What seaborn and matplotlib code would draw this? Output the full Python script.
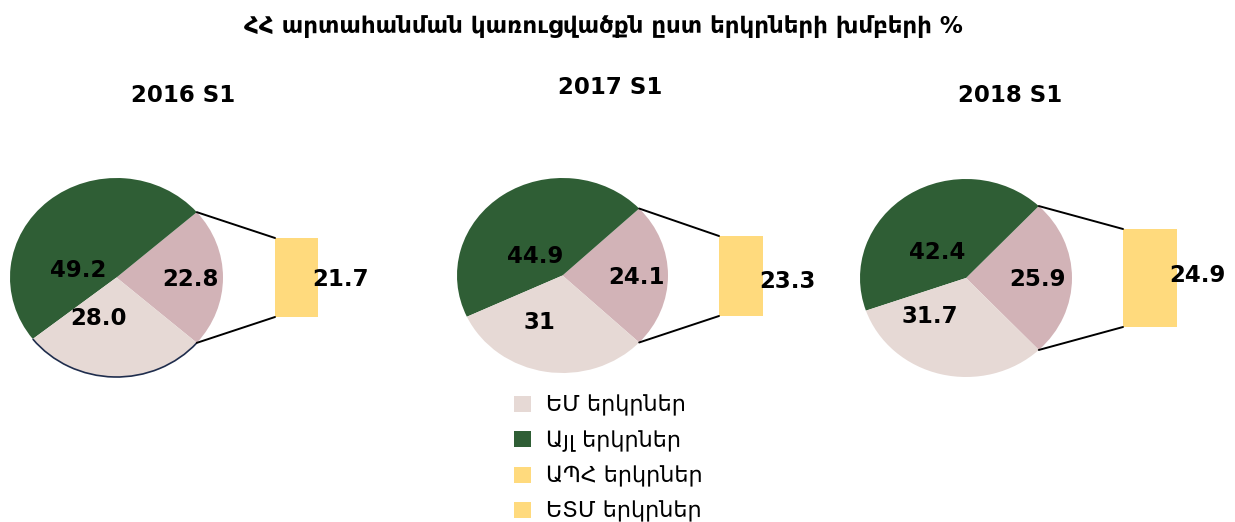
import math
import matplotlib
matplotlib.use("Agg")
import matplotlib.pyplot as plt
from matplotlib.patches import Patch, Arc, ConnectionPatch
import seaborn as sns

# ---------------- data ----------------
periods = ["2016 S1", "2017 S1", "2018 S1"]
other_shares = [49.2, 44.9, 42.4]      # Այլ երկրներ
cis_shares = [22.8, 24.1, 25.9]        # ԱՊՀ (exploded slice)
eu_shares = [28.0, 31, 31.7]           # ԵՄ երկրներ
eaeu_shares = [21.7, 23.3, 24.9]       # ԵՏՄ (bar)
legend_labels = ["ԵՄ երկրներ", "Այլ երկրներ", "ԱՊՀ երկրներ", "ԵՏՄ երկրներ"]
title = "ՀՀ արտահանման կառուցվածքն ըստ երկրների խմբերի %"

# ---------------- style ----------------
sns.set_theme(style="white")
plt.rcParams["font.family"] = ["DejaVu Sans"]
plt.rcParams["text.color"] = "black"
C_GREEN = "#2F5E35"
C_PINK = "#D2B3B7"
C_LIGHT = "#E6D9D5"
C_YELLOW = "#FFDA7D"

W, H = 1235, 522
fig = plt.figure(figsize=(W / 100, H / 100), dpi=100)

def fbox(x0, y0, x1, y1):
    return [x0 / W, 1 - y1 / H, (x1 - x0) / W, (y1 - y0) / H]

pie_boxes = [(10, 178, 223, 377), (457, 178, 668, 373), (860, 179, 1072, 377)]
bar_boxes = [(275, 238, 318, 317), (719, 236, 763, 316), (1123, 229, 1177, 327)]
label_pos = [
    [(0.69, -0.025), (-0.36, 0.075), (-0.165, -0.41)],
    [(0.705, -0.025), (-0.26, 0.19), (-0.22, -0.48)],
    [(0.67, -0.02), (-0.27, 0.26), (-0.34, -0.39)],
]
bar_label_dx = [44, 46, 47]
bar_label_dy = [-2, -5, 3]
subtitle_pos = [(183, 95), (610, 88), (1010, 95)]

for i in range(3):
    vals = [cis_shares[i], other_shares[i], eu_shares[i]]
    half = cis_shares[i] / sum(vals) * 180.0
    ax = fig.add_axes(fbox(*pie_boxes[i]))
    ax.pie(vals, colors=[C_PINK, C_GREEN, C_LIGHT], startangle=-half,
           counterclock=True, radius=1,
           wedgeprops=dict(linewidth=0, edgecolor="none"))
    ax.set_aspect("auto")
    ax.set_xlim(-1, 1)
    ax.set_ylim(-1, 1)
    ax.axis("off")
    for v, (lx, ly) in zip(vals, label_pos[i]):
        ax.text(lx, ly, str(v), ha="center", va="center", fontsize=16.5,
                fontweight="bold", color="black")
    if i == 0:
        start = half + other_shares[i] / sum(vals) * 360.0
        ax.add_patch(Arc((0, 0), 2, 2, theta1=start, theta2=360 - half,
                         color="#1F2D4D", lw=1.2, clip_on=False))

    bax = fig.add_axes(fbox(*bar_boxes[i]))
    sns.barplot(x=["ԵՏՄ"], y=[eaeu_shares[i]], color=C_YELLOW, ax=bax,
                width=0.8, saturation=1, linewidth=0)
    bax.set_xlim(-0.4, 0.4)
    bax.set_ylim(0, eaeu_shares[i])
    bax.axis("off")
    bax.annotate(str(eaeu_shares[i]), xy=(0, eaeu_shares[i] / 2),
                 xytext=(bar_label_dx[i], bar_label_dy[i]),
                 textcoords="offset pixels", ha="center", va="center",
                 fontsize=16.5, fontweight="bold", color="black")

    hr = math.radians(half)
    for sgn, yb in ((1, eaeu_shares[i]), (-1, 0)):
        con = ConnectionPatch(xyA=(math.cos(hr), sgn * math.sin(hr)), coordsA=ax.transData,
                              xyB=(-0.4, yb), coordsB=bax.transData,
                              color="black", lw=1.4)
        fig.add_artist(con)

    sx, sy = subtitle_pos[i]
    fig.text(sx / W, 1 - sy / H, periods[i], ha="center", va="center",
             fontsize=16.5, fontweight="bold", color="black")

fig.text(603 / W, 1 - 26 / H, title, ha="center", va="center",
         fontsize=16.5, fontweight="bold", color="black")

handles = [Patch(facecolor=c, edgecolor="none") for c in (C_LIGHT, C_GREEN, C_YELLOW, C_YELLOW)]
leg = fig.legend(handles, legend_labels, loc="upper left",
                 bbox_to_anchor=(505 / W, 1 - 386 / H), frameon=False,
                 fontsize=16, handlelength=0.75, handleheight=0.75,
                 handletextpad=0.7, labelspacing=0.62, borderaxespad=0)
for t in leg.get_texts():
    t.set_color("black")

fig.savefig("out.png", dpi=100)
